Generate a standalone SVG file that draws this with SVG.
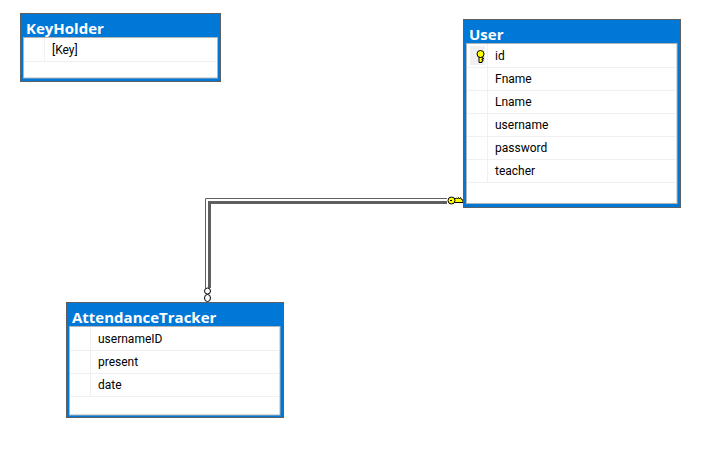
<svg xmlns="http://www.w3.org/2000/svg" width="724" height="453" viewBox="0 0 724 453">
<defs>
<style>
.outer{fill:#0078d7;stroke:#5f5f5f;stroke-width:1}
.inner{fill:#fff;stroke:#b4b4b4;stroke-width:1}
.grid{stroke:#f0f0f0;stroke-width:1;fill:none}
.title{font-family:"Open Sans","Noto Sans","Liberation Sans",sans-serif;font-size:15px;font-weight:700;fill:#fff}
.field{font-family:Roboto,"Open Sans","Liberation Sans",sans-serif;font-size:12px;fill:#000}
.key{fill:#ffff00;stroke:#000;stroke-width:1}
</style>
</defs>
<rect width="724" height="453" fill="#fff"/>
<g id="connectors">
<path d="M205.500 288V198.500H447" fill="none" stroke="#5f5f5f" stroke-width="1"/>
<path d="M209.500 288V202.500H447" fill="none" stroke="#5f5f5f" stroke-width="3"/>
<path d="M206.500 288V199.500H447" fill="none" stroke="#fff" stroke-width="1"/>
<path d="M207.500 288V200.500H447" fill="none" stroke="#fff" stroke-width="1"/>
<ellipse cx="207.500" cy="291" rx="3" ry="3" fill="#fff" stroke="#000"/>
<ellipse cx="207.500" cy="298" rx="3" ry="3.500" fill="#fff" stroke="#000"/>
<path d="M454 199.500l2.500-1.500 1 1 1-1.500 1 1.500 1-1.500 1.500 2.500h1v2.500h-9z" class="key" stroke-width="0.700"/>
<circle cx="451.500" cy="200.500" r="3.500" class="key"/>
<rect x="450" y="200" width="2" height="1" fill="#000"/>
</g>
<g id="KeyHolder">
<rect class="outer" x="20.500" y="13.500" width="200" height="68"/>
<rect class="inner" x="23.500" y="37.500" width="194" height="40.500"/>
<path class="grid" d="M24 61.500H217M44.500 38V61"/>
<text class="title" x="26" y="34">KeyHolder</text>
<text class="field" x="52" y="54">[Key]</text>
</g>
<g id="User">
<rect class="outer" x="463.500" y="19.500" width="217" height="188"/>
<rect class="inner" x="466.500" y="43.500" width="210.500" height="160"/>
<path class="grid" d="M467 67.500H676M467 90.500H676M467 113.500H676M467 136.500H676M467 159.500H676M467 182.500H676M487.500 44V182"/>
<rect x="470" y="46" width="15" height="19" fill="#f0f0f0"/>
<g class="key" stroke-width="0.800">
<path d="M479 57h3v1h1.500v1h-1.500v1h1v1h-1v1.500h-3z"/>
<ellipse cx="480.500" cy="54" rx="3.500" ry="3.500"/>
</g>
<text class="title" x="469" y="40">User</text>
<text class="field" x="495" y="60">id</text>
<text class="field" x="495" y="83">Fname</text>
<text class="field" x="495" y="106">Lname</text>
<text class="field" x="495" y="129">username</text>
<text class="field" x="495" y="152">password</text>
<text class="field" x="495" y="175">teacher</text>
</g>
<g id="AttendanceTracker">
<rect class="outer" x="66.500" y="302.500" width="217" height="115"/>
<rect class="inner" x="69.500" y="326.500" width="210.500" height="88.500"/>
<path class="grid" d="M70 350.500H279M70 373.500H279M70 396.500H279M90.500 327V396"/>
<text class="title" x="72" y="323">AttendanceTracker</text>
<text class="field" x="98" y="343">usernameID</text>
<text class="field" x="98" y="366">present</text>
<text class="field" x="98" y="389">date</text>
</g>
</svg>
